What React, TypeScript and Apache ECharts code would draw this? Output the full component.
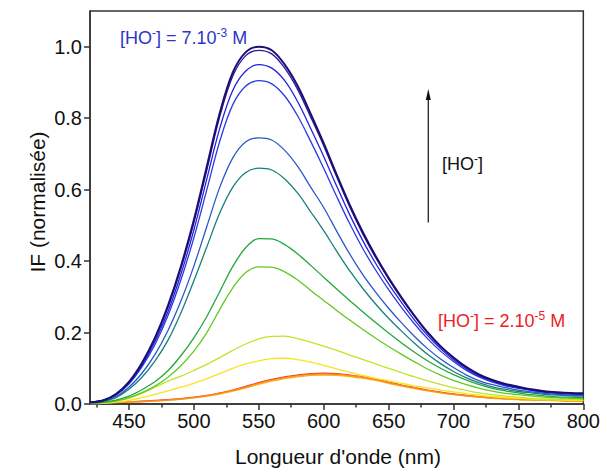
import React, { useEffect, useRef } from "react";
import * as echarts from "echarts";

// Wavelength grid (nm)
const wavelengths = [
  420, 430, 440, 450, 460, 470, 480, 490, 500, 510, 520, 530, 540, 550, 560, 570, 580, 590, 600, 610,
  620, 630, 640, 650, 660, 670, 680, 690, 700, 710, 720, 730, 740, 750, 760, 770, 780, 790, 800,
];

// Normalised fluorescence intensity, one array per [HO-] concentration
const ifNavy = [
  0.005, 0.01, 0.028, 0.062, 0.115, 0.185, 0.275, 0.385, 0.515, 0.665, 0.815, 0.928, 0.985, 1.0, 0.99, 0.95, 0.89, 0.812, 0.73, 0.642,
  0.558, 0.482, 0.414, 0.353, 0.298, 0.247, 0.201, 0.162, 0.13, 0.103, 0.082, 0.067, 0.056, 0.048, 0.041, 0.036, 0.033, 0.031, 0.03,
];
const ifDarkBlue = [
  0.005, 0.01, 0.027, 0.061, 0.113, 0.182, 0.27, 0.379, 0.507, 0.655, 0.805, 0.918, 0.975, 0.99, 0.98, 0.94, 0.88, 0.803, 0.723, 0.636,
  0.552, 0.477, 0.41, 0.35, 0.295, 0.245, 0.199, 0.16, 0.129, 0.102, 0.081, 0.066, 0.055, 0.047, 0.04, 0.035, 0.032, 0.03, 0.029,
];
const ifBlue1 = [
  0.005, 0.01, 0.026, 0.059, 0.108, 0.174, 0.258, 0.363, 0.487, 0.63, 0.772, 0.878, 0.932, 0.95, 0.94, 0.905, 0.846, 0.771, 0.693, 0.61,
  0.53, 0.458, 0.394, 0.336, 0.284, 0.235, 0.192, 0.155, 0.124, 0.098, 0.078, 0.064, 0.053, 0.046, 0.039, 0.034, 0.031, 0.029, 0.028,
];
const ifBlue2 = [
  0.005, 0.01, 0.025, 0.056, 0.104, 0.166, 0.247, 0.347, 0.465, 0.6, 0.736, 0.838, 0.89, 0.905, 0.896, 0.862, 0.806, 0.735, 0.66, 0.581,
  0.505, 0.436, 0.375, 0.32, 0.27, 0.224, 0.183, 0.148, 0.119, 0.094, 0.075, 0.061, 0.051, 0.044, 0.038, 0.033, 0.03, 0.028, 0.027,
];
const ifRoyal = [
  0.004, 0.008, 0.021, 0.047, 0.086, 0.138, 0.205, 0.288, 0.386, 0.497, 0.607, 0.689, 0.734, 0.745, 0.739, 0.71, 0.665, 0.607, 0.55, 0.484,
  0.42, 0.363, 0.313, 0.268, 0.227, 0.189, 0.155, 0.126, 0.102, 0.081, 0.065, 0.054, 0.046, 0.039, 0.034, 0.03, 0.027, 0.025, 0.024,
];
const ifTeal = [
  0.004, 0.007, 0.018, 0.041, 0.075, 0.12, 0.178, 0.255, 0.345, 0.44, 0.535, 0.607, 0.648, 0.66, 0.655, 0.63, 0.59, 0.538, 0.485, 0.428,
  0.373, 0.324, 0.28, 0.24, 0.204, 0.17, 0.139, 0.113, 0.091, 0.073, 0.059, 0.048, 0.041, 0.035, 0.031, 0.027, 0.025, 0.023, 0.022,
];
const ifGreen = [
  0.002, 0.005, 0.011, 0.022, 0.04, 0.062, 0.093, 0.135, 0.185, 0.245, 0.315, 0.385, 0.438, 0.463, 0.462, 0.446, 0.42, 0.388, 0.355, 0.322,
  0.29, 0.258, 0.228, 0.199, 0.171, 0.145, 0.121, 0.1, 0.082, 0.067, 0.054, 0.044, 0.037, 0.031, 0.026, 0.023, 0.02, 0.019, 0.018,
];
const ifLightGreen = [
  0.002, 0.004, 0.009, 0.018, 0.032, 0.05, 0.075, 0.107, 0.148, 0.2, 0.265, 0.325, 0.368, 0.384, 0.383, 0.37, 0.347, 0.318, 0.29, 0.262,
  0.235, 0.209, 0.184, 0.161, 0.139, 0.118, 0.098, 0.081, 0.066, 0.054, 0.044, 0.036, 0.03, 0.026, 0.022, 0.019, 0.017, 0.016, 0.015,
];
const ifYellowGreen = [
  0.001, 0.003, 0.008, 0.016, 0.03, 0.047, 0.064, 0.078, 0.094, 0.111, 0.13, 0.15, 0.168, 0.182, 0.189, 0.19, 0.183, 0.173, 0.162, 0.15,
  0.137, 0.125, 0.112, 0.1, 0.088, 0.076, 0.065, 0.055, 0.046, 0.038, 0.031, 0.026, 0.022, 0.019, 0.016, 0.014, 0.013, 0.012, 0.012,
];
const ifYellow = [
  0.001, 0.002, 0.005, 0.01, 0.018, 0.027, 0.037, 0.047, 0.058, 0.071, 0.085, 0.1, 0.112, 0.121, 0.127, 0.128, 0.124, 0.117, 0.108, 0.098,
  0.089, 0.08, 0.072, 0.065, 0.058, 0.051, 0.045, 0.039, 0.034, 0.029, 0.025, 0.021, 0.018, 0.016, 0.014, 0.012, 0.011, 0.01, 0.01,
];
const ifYellowOrange = [
  0.002, 0.003, 0.004, 0.005, 0.006, 0.008, 0.01, 0.013, 0.017, 0.022, 0.028, 0.036, 0.045, 0.055, 0.064, 0.071, 0.076, 0.08, 0.081, 0.08,
  0.077, 0.072, 0.066, 0.058, 0.05, 0.043, 0.037, 0.031, 0.026, 0.022, 0.019, 0.016, 0.014, 0.012, 0.011, 0.01, 0.009, 0.008, 0.008,
];
const ifOrange = [
  0.003, 0.004, 0.005, 0.006, 0.007, 0.009, 0.011, 0.014, 0.018, 0.023, 0.03, 0.038, 0.047, 0.058, 0.067, 0.074, 0.079, 0.083, 0.084, 0.083,
  0.08, 0.075, 0.068, 0.06, 0.052, 0.045, 0.038, 0.032, 0.027, 0.023, 0.02, 0.017, 0.015, 0.013, 0.012, 0.011, 0.01, 0.009, 0.009,
];
const ifRed = [
  0.003, 0.004, 0.005, 0.006, 0.008, 0.01, 0.012, 0.015, 0.019, 0.024, 0.031, 0.039, 0.049, 0.06, 0.069, 0.076, 0.081, 0.085, 0.086, 0.085,
  0.081, 0.076, 0.069, 0.061, 0.053, 0.046, 0.039, 0.033, 0.028, 0.024, 0.02, 0.017, 0.015, 0.013, 0.012, 0.011, 0.01, 0.009, 0.009,
];

const xMajorTicks = [450, 500, 550, 600, 650, 700, 750, 800];
const xMinorTicks = [425, 475, 525, 575, 625, 675, 725, 775];
const yTicks = [0, 0.2, 0.4, 0.6, 0.8, 1.0];

const curves = [
  { color: "#ee3024", width: 1.3, data: ifRed },
  { color: "#fbb016", width: 1.3, data: ifYellowOrange },
  { color: "#f7901d", width: 1.3, data: ifOrange },
  { color: "#f8e41e", width: 1.3, data: ifYellow },
  { color: "#c4e226", width: 1.3, data: ifYellowGreen },
  { color: "#62c822", width: 1.3, data: ifLightGreen },
  { color: "#22a83c", width: 1.3, data: ifGreen },
  { color: "#17807a", width: 1.3, data: ifTeal },
  { color: "#2a58c8", width: 1.3, data: ifRoyal },
  { color: "#2a3ae6", width: 1.3, data: ifBlue2 },
  { color: "#2222dc", width: 1.3, data: ifBlue1 },
  { color: "#2814a8", width: 1.3, data: ifDarkBlue },
  { color: "#1c0f6e", width: 2, data: ifNavy },
];

const FONT = "'Liberation Sans', Arial, Helvetica, sans-serif";

function conc(prefix: string, exp: string, color: string) {
  return {
    text: `{a|[HO}{s|-}{a|]${prefix}}` + (exp ? `{s|${exp}}{a| M}` : ""),
    textVerticalAlign: "middle",
    rich: {
      a: { fontSize: 18, fontFamily: FONT, fill: color, color, lineHeight: 20, verticalAlign: "bottom" },
      s: { fontSize: 12, fontFamily: FONT, fill: color, color, lineHeight: 20, verticalAlign: "top" },
    },
  };
}

export default function App() {
  const ref = useRef<HTMLDivElement>(null);

  useEffect(() => {
    if (!ref.current) return;
    const chart = echarts.init(ref.current, undefined, { renderer: "svg" });
    const axisColor = "#333";

    const option: any = {
      animation: false,
      backgroundColor: "#fff",
      grid: {
        left: 90,
        top: 11,
        right: 17,
        bottom: 67,
        show: true,
        borderColor: axisColor,
        borderWidth: 1.5,
        backgroundColor: "transparent",
      },
      xAxis: [
        {
          type: "value",
          min: 420,
          max: 800,
          axisLine: { show: true, onZero: false, lineStyle: { color: axisColor, width: 1.5 } },
          axisTick: { show: true, inside: false, length: 6, customValues: xMajorTicks, lineStyle: { color: axisColor, width: 1.5 } },
          axisLabel: { customValues: xMajorTicks, fontSize: 20, color: "#111", margin: 7, fontFamily: FONT },
          splitLine: { show: false },
        },
        {
          type: "value",
          min: 420,
          max: 800,
          position: "bottom",
          axisLine: { show: false },
          axisTick: { show: true, inside: false, length: 3.5, customValues: xMinorTicks, lineStyle: { color: axisColor, width: 1.5 } },
          axisLabel: { show: false },
          splitLine: { show: false },
        },
      ],
      yAxis: {
        type: "value",
        min: 0,
        max: 1.1,
        axisLine: { show: true, onZero: false, lineStyle: { color: axisColor, width: 1.5 } },
        axisTick: { show: true, inside: false, length: 6, customValues: yTicks, lineStyle: { color: axisColor, width: 1.5 } },
        axisLabel: {
          customValues: yTicks,
          fontSize: 20,
          color: "#111",
          margin: 8,
          fontFamily: FONT,
          formatter: (v: number) => v.toFixed(1),
        },
        splitLine: { show: false },
      },
      series: curves.map((c) => ({
        type: "line",
        xAxisIndex: 0,
        yAxisIndex: 0,
        showSymbol: false,
        smooth: 0.35,
        lineStyle: { color: c.color, width: c.width },
        data: wavelengths.map((w, i) => [w, c.data[i]]),
      })),
      graphic: [
        {
          type: "text",
          x: 338,
          y: 456,
          style: {
            text: "Longueur d'onde (nm)",
            font: `21px ${FONT}`,
            fill: "#111",
            textAlign: "center",
            textVerticalAlign: "middle",
          },
        },
        {
          type: "text",
          x: 37,
          y: 202,
          rotation: Math.PI / 2,
          style: {
            text: "IF (normalisée)",
            font: `21px ${FONT}`,
            fill: "#111",
            textAlign: "center",
            textVerticalAlign: "middle",
          },
        },
        { type: "text", x: 120, y: 37, style: conc(" = 7.10", "-3", "#2b36c8") },
        { type: "text", x: 438, y: 320, style: conc(" = 2.10", "-5", "#ee1c25") },
        { type: "text", x: 442, y: 163, style: conc("", "", "#111") },
        {
          type: "line",
          shape: { x1: 428.3, y1: 222.5, x2: 428.3, y2: 97 },
          style: { stroke: "#222", lineWidth: 1.3 },
        },
        {
          type: "polygon",
          shape: { points: [[428.3, 89], [425.8, 100], [430.8, 100]] },
          style: { fill: "#111" },
        },
      ],
    };

    chart.setOption(option);
    return () => chart.dispose();
  }, []);

  return (
    <div
      ref={ref}
      style={{ position: "fixed", left: 0, top: 0, width: 603, height: 471 }}
    />
  );
}
